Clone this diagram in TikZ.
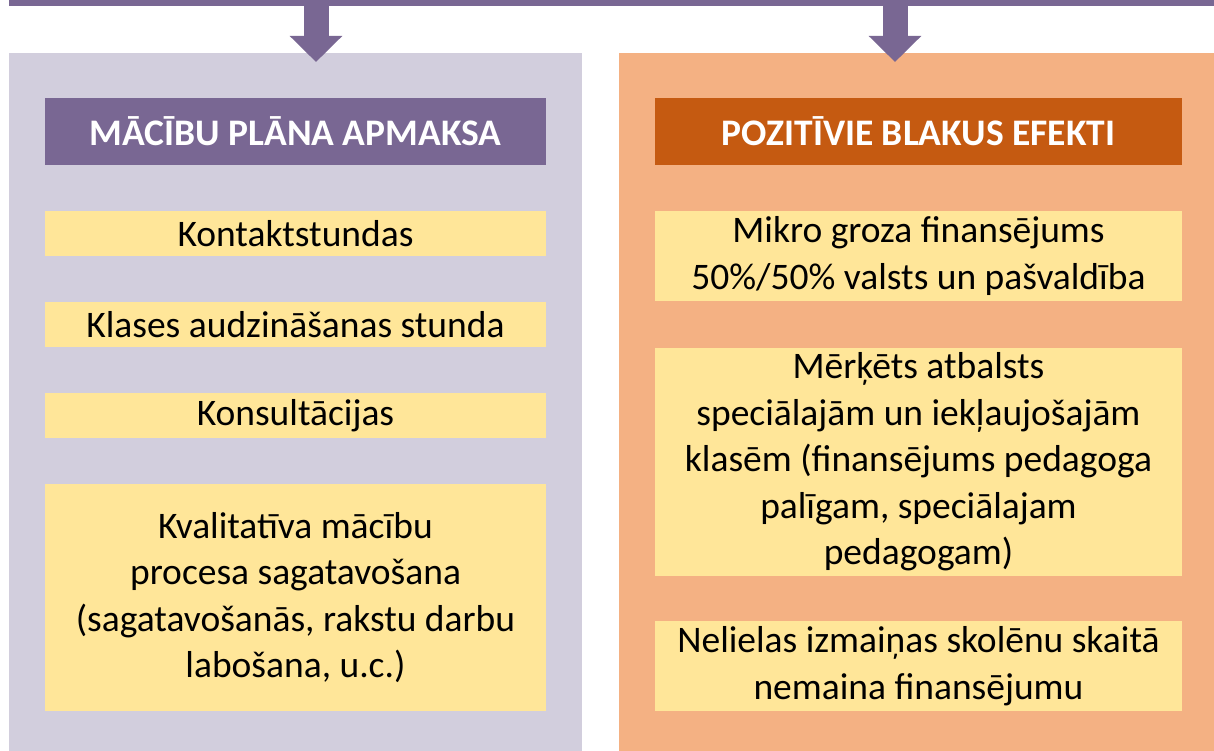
\documentclass[tikz,border=0pt]{standalone}
\usepackage{fontspec}
\setmainfont{Carlito}
\usetikzlibrary{arrows.meta}
\definecolor{plum}{HTML}{796793}
\definecolor{lilac}{HTML}{D2CEDD}
\definecolor{rust}{HTML}{C55A11}
\definecolor{peach}{HTML}{F4B183}
\definecolor{cream}{HTML}{FFE699}
\tikzset{
  panel/.style={inner sep=0pt,anchor=north west},
  head/.style={inner sep=0pt,text=white,font=\fontsize{37.5}{44}\selectfont\bfseries},
  item/.style={fill=cream,inner sep=0pt,align=center,font=\fontsize{37.5}{46.5}\selectfont},
  bigarrow/.style={plum,line width=25pt,-{Triangle[width=51pt,length=26pt]}}
}

\begin{document}
\begin{tikzpicture}[x=1pt,y=-1pt]
   \useasboundingbox (0,0) rectangle (1214,751);
   % top bar and the two columns
   \node[panel,fill=plum,minimum width=1205pt,minimum height=6pt] (bar) at (9,0) {};
   \node[panel,fill=lilac,minimum width=573pt,minimum height=698pt] (lpanel) at (9,53) {};
   \node[panel,fill=peach,minimum width=595pt,minimum height=698pt] (rpanel) at (619,53) {};
   \coordinate (ltip) at (316,62);
   \coordinate (rtip) at (895,62);
   \draw[bigarrow] (bar.south -| ltip) -- (ltip);
   \draw[bigarrow] (bar.south -| rtip) -- (rtip);
   % left column
   \node[head,fill=plum,minimum width=501pt,minimum height=67pt] (lhead) at (295.5,131.5) {MĀCĪBU PLĀNA APMAKSA};
   \node[item,minimum width=501pt,minimum height=45pt] (kontakt) at (295.5,233.5) {Kontaktstundas};
   \node[item,minimum width=501pt,minimum height=45pt] (klases) at (295.5,324.5) {Klases audzināšanas stunda};
   \node[item,minimum width=501pt,minimum height=45pt] (konsult) at (295.5,415.5) {Konsultācijas};
   \node[item,minimum width=501pt,minimum height=227pt] (kvalit) at (295.5,597.5) {Kvalitatīva mācību\\procesa sagatavošana\\(sagatavošanās, rakstu darbu\\labošana, u.c.)};
   % right column
   \node[head,fill=rust,minimum width=527pt,minimum height=67pt] (rhead) at (918.5,131.5) {POZITĪVIE BLAKUS EFEKTI};
   \node[item,minimum width=527pt,minimum height=90pt] (mikro) at (918.5,256) {Mikro groza finansējums\\50\%/50\% valsts un pašvaldība};
   \node[item,minimum width=527pt,minimum height=228pt] (merkets) at (918.5,462) {Mērķēts atbalsts\\speciālajām un iekļaujošajām\\klasēm (finansējums pedagoga\\palīgam, speciālajam\\pedagogam)};
   \node[item,minimum width=527pt,minimum height=90pt] (nelielas) at (918.5,666) {Nelielas izmaiņas skolēnu skaitā\\nemaina finansējumu};
\end{tikzpicture}
\end{document}
